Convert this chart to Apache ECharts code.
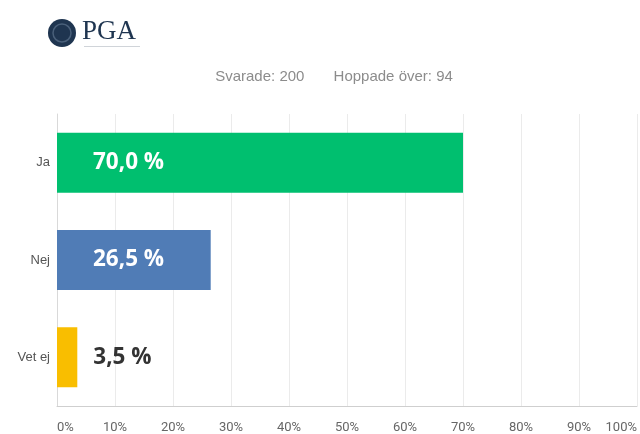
<!DOCTYPE html>
<html>
<head>
<meta charset="utf-8">
<script src="https://cdn.jsdelivr.net/npm/echarts@6/dist/echarts.min.js"></script>
<style>
  html, body { margin: 0; padding: 0; background: #fff; }
  #chart { width: 640px; height: 434px; }
</style>
</head>
<body>
<div id="chart"></div>
<script>
var categories = ['Ja', 'Nej', 'Vet ej'];
var values = [70.0, 26.5, 3.5];
var barColors = ['#00bf6f', '#507cb6', '#f9be00'];
var answered = 200;
var skipped = 94;

var chart = echarts.init(document.getElementById('chart'));

function fmt(v) {
  return v.toFixed(1).replace('.', ',') + ' %';
}

var option = {
  animation: false,
  title: {
    text: 'Svarade: ' + answered + '       Hoppade över: ' + skipped,
    left: 329,
    textAlign: 'center',
    top: 64,
    textStyle: { color: '#8c8c8c', fontSize: 15, fontWeight: 'normal', fontFamily: 'Liberation Sans' }
  },
  graphic: [
    { type: 'circle', shape: { cx: 62, cy: 33, r: 14 }, style: { fill: '#1f3550' } },
    { type: 'circle', shape: { cx: 62, cy: 33, r: 9 }, style: { fill: 'none', stroke: '#4a607a', lineWidth: 1.5 } },
    { type: 'text', left: 82, top: 18, style: { text: 'PGA', fill: '#1f3550', font: '27px "Liberation Serif"' } },
    { type: 'rect', shape: { x: 84, y: 46, width: 56, height: 1 }, style: { fill: '#d0d4d9' } }
  ],
  grid: { left: 57, right: 0, top: 114, bottom: 27, containLabel: false },
  xAxis: {
    type: 'value',
    min: 0,
    max: 100,
    interval: 10,
    axisLine: { show: true, lineStyle: { color: '#cfcfcf' } },
    axisTick: { show: false },
    splitLine: { lineStyle: { color: '#ebebeb' } },
    axisLabel: {
      formatter: '{value}%',
      color: '#666',
      fontSize: 13,
      fontFamily: 'Roboto',
      margin: 15,
      alignMinLabel: 'left',
      alignMaxLabel: 'right'
    }
  },
  yAxis: {
    type: 'category',
    data: categories,
    inverse: true,
    axisLine: { show: true, lineStyle: { color: '#d9d9d9' } },
    axisTick: { show: false },
    axisLabel: { color: '#555', fontSize: 13, fontFamily: 'Liberation Sans', margin: 7 }
  },
  series: [{
    type: 'bar',
    barWidth: 60,
    data: values.map(function (v, i) {
      var small = v < 10;
      return {
        value: v,
        itemStyle: { color: barColors[i] },
        label: {
          show: true,
          position: small ? 'right' : 'insideLeft',
          distance: small ? 16 : 36,
          formatter: function (p) { return fmt(p.value); },
          color: small ? '#333' : '#fff',
          fontSize: 22.5,
          fontWeight: 'bold',
          fontFamily: 'Open Sans'
        }
      };
    })
  }]
};

chart.setOption(option);
</script>
</body>
</html>
